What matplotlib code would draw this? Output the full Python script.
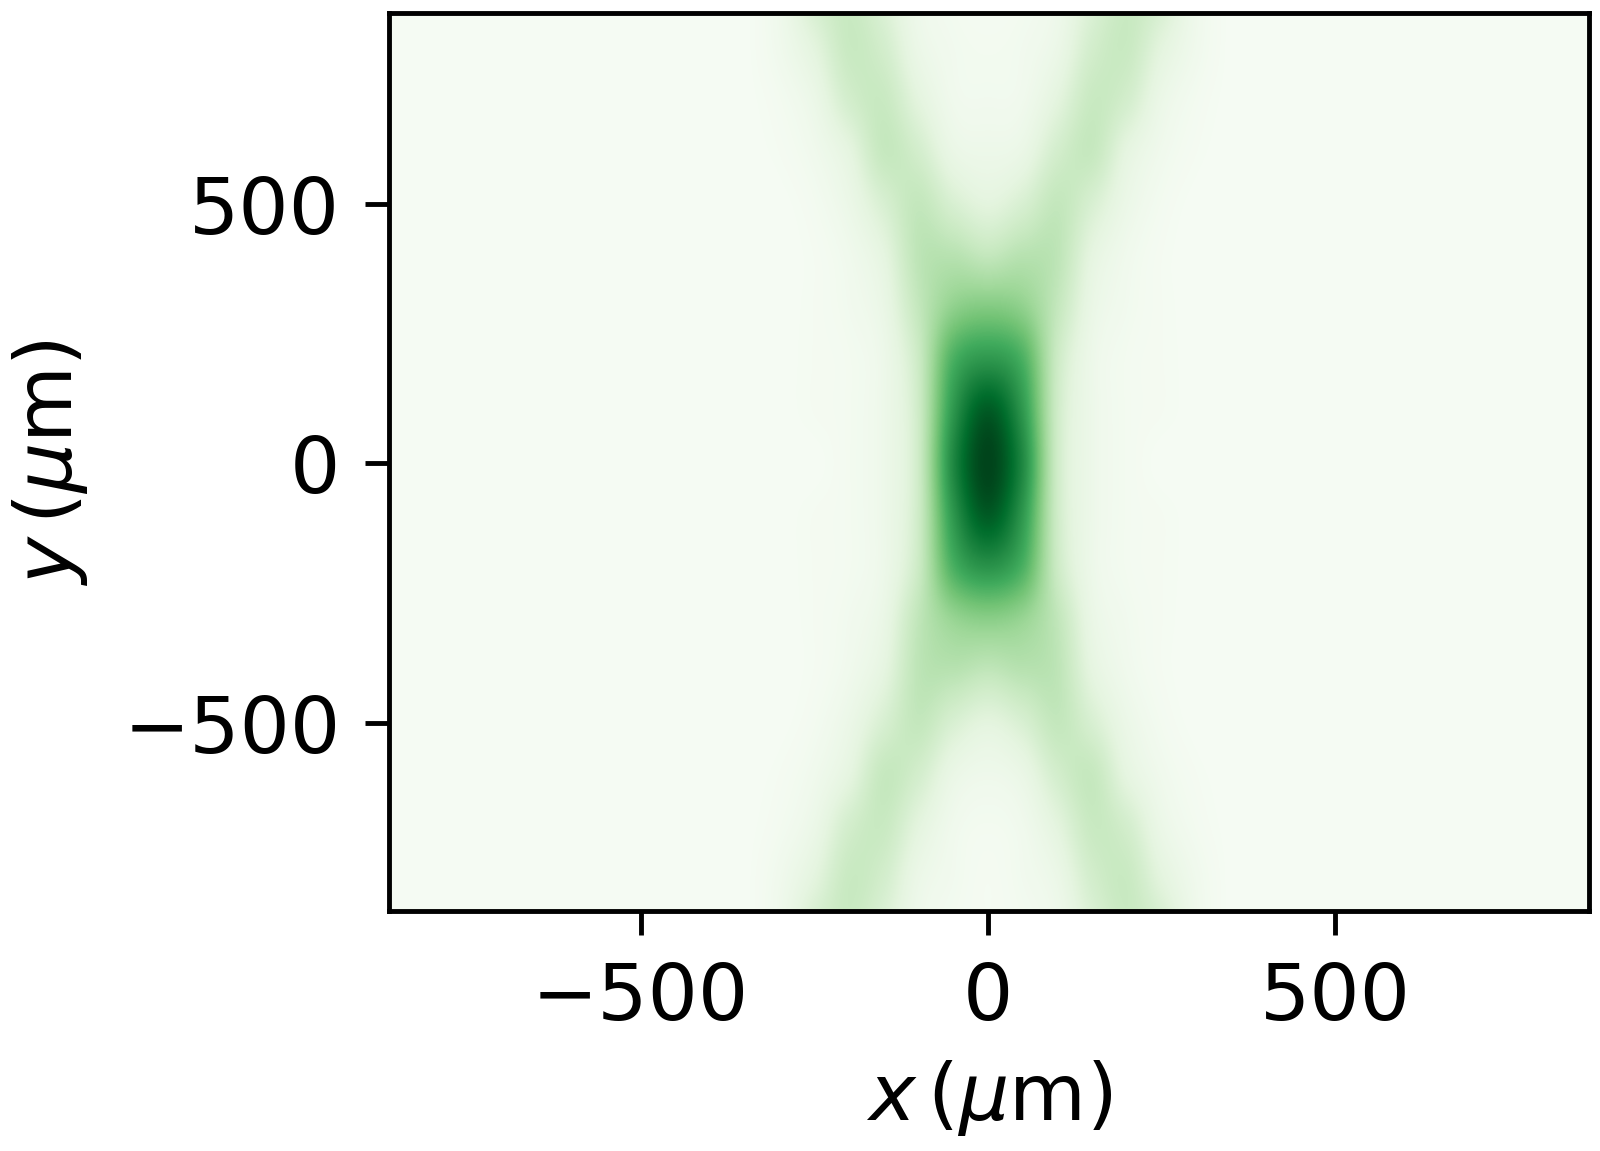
import numpy as np
import matplotlib
matplotlib.use('Agg')
import matplotlib.pyplot as plt

# background level outside the central columns
bg = 0.012

# x positions of the columns given below (um)
x_cols = np.arange(-350, 351, 50)
# y positions of the rows (um), top to bottom
y_rows = np.arange(900, -901, -100)

# intensity, as a fraction of the Greens colormap
row_p900 = [.012, .06, .19, .24, .16, .06, .03, .02, .03, .06, .16, .24, .19, .06, .012]
row_p800 = [.012, .05, .13, .24, .20, .08, .04, .03, .04, .08, .20, .24, .13, .05, .012]
row_p700 = [.012, .03, .08, .20, .24, .13, .05, .04, .05, .13, .24, .20, .08, .03, .012]
row_p600 = [.012, .02, .05, .12, .25, .20, .09, .07, .09, .20, .25, .12, .05, .02, .012]
row_p500 = [.012, .012, .03, .08, .18, .26, .18, .13, .18, .26, .18, .08, .03, .012, .012]
row_p400 = [.012, .012, .02, .05, .12, .28, .30, .26, .30, .28, .12, .05, .02, .012, .012]
row_p300 = [.012, .012, .02, .04, .09, .26, .42, .46, .42, .26, .09, .04, .02, .012, .012]
row_p200 = [.012, .012, .02, .03, .07, .23, .60, .70, .60, .23, .07, .03, .02, .012, .012]
row_p100 = [.012, .012, .02, .03, .07, .22, .70, .93, .70, .22, .07, .03, .02, .012, .012]
row_0    = [.012, .012, .012, .03, .07, .22, .76, 1.0, .76, .22, .07, .03, .012, .012, .012]
row_m100 = [.012, .012, .02, .03, .07, .22, .70, .93, .70, .22, .07, .03, .02, .012, .012]
row_m200 = [.012, .012, .02, .03, .07, .23, .60, .72, .60, .23, .07, .03, .02, .012, .012]
row_m300 = [.012, .012, .02, .04, .09, .27, .40, .44, .40, .27, .09, .04, .02, .012, .012]
row_m400 = [.012, .012, .02, .05, .12, .28, .30, .27, .30, .28, .12, .05, .02, .012, .012]
row_m500 = [.012, .012, .03, .08, .18, .26, .18, .13, .18, .26, .18, .08, .03, .012, .012]
row_m600 = [.012, .02, .05, .12, .25, .20, .09, .06, .09, .20, .25, .12, .05, .02, .012]
row_m700 = [.012, .03, .08, .20, .24, .13, .05, .03, .05, .13, .24, .20, .08, .03, .012]
row_m800 = [.012, .05, .13, .24, .20, .08, .04, .02, .04, .08, .20, .24, .13, .05, .012]
row_m900 = [.012, .06, .19, .24, .16, .06, .03, .02, .03, .06, .16, .24, .19, .06, .012]

core = np.array([row_p900, row_p800, row_p700, row_p600, row_p500, row_p400, row_p300,
                 row_p200, row_p100, row_0, row_m100, row_m200, row_m300, row_m400,
                 row_m500, row_m600, row_m700, row_m800, row_m900])

# pad the sides with the flat background so the grid is regular up to the edges
n_pad = 11
z = np.pad(core, ((0, 0), (n_pad, n_pad)), constant_values=bg)

dx = 50
dy = 100
x_lo = x_cols[0] - n_pad * dx - dx / 2
x_hi = x_cols[-1] + n_pad * dx + dx / 2

fig = plt.figure(figsize=(8, 5.755), dpi=200)
ax = fig.add_axes([389 / 1600, 1 - 911 / 1151, 1200 / 1600, 898 / 1151])

ax.imshow(z, cmap='Greens', vmin=0, vmax=1, aspect='auto', interpolation='catrom',
          extent=[x_lo, x_hi, y_rows[-1] - dy / 2, y_rows[0] + dy / 2])

ax.set_xlim(-862, 865)
ax.set_ylim(-863, 867)
ax.set_xticks([-500, 0, 500])
ax.set_yticks([-500, 0, 500])
ax.tick_params(labelsize=28.5, length=8.5, width=1.75, pad=9)
for s in ax.spines.values():
    s.set_linewidth(1.75)

ax.set_xlabel(r'$x\,(\mu\mathrm{m})$', fontsize=28.5, labelpad=8)
ax.set_ylabel(r'$y\,(\mu\mathrm{m})$', fontsize=28.5, labelpad=12)

fig.savefig('out.png', dpi=200)
